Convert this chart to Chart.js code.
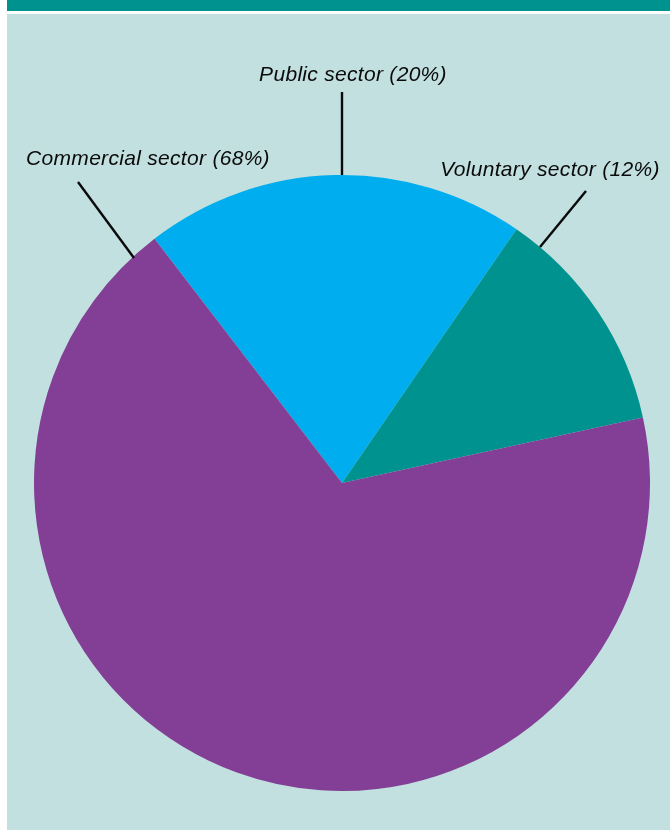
<!DOCTYPE html>
<html>
<head>
<meta charset="utf-8">
<script src="https://cdn.jsdelivr.net/npm/chart.js@4.4.1/dist/chart.umd.min.js"></script>
<style>
  html, body { margin: 0; padding: 0; background: #ffffff; }
  #frame { position: absolute; left: 7px; top: 0; width: 663px; height: 830px; background: #c2e0df; }
  #bar { position: absolute; left: 0; top: 0; width: 663px; height: 11px; background: #00928e; }
  #gap { position: absolute; left: 0; top: 11px; width: 663px; height: 3px; background: #ffffff; }
  #c { position: absolute; left: 0; top: 0; }
</style>
</head>
<body>
<div id="frame"><div id="bar"></div><div id="gap"></div></div>
<canvas id="c" width="670" height="830"></canvas>
<script>
// Data
const categories = ["Public sector", "Voluntary sector", "Commercial sector"];
const shares = [20, 12, 68];
const sliceColors = ["#00aeef", "#00928e", "#823f95"];

// Label annotations: text offset from pie centre, leader line from pie edge outward
const labelLayout = [
  { text: "Public sector (20%)",      tx: 11,   ty: -402, x1: 0,    y1: -308, x2: 0,    y2: -391 },
  { text: "Voluntary sector (12%)",   tx: 208,  ty: -307, x1: 198,  y1: -236, x2: 244,  y2: -292 },
  { text: "Commercial sector (68%)",  tx: -194, ty: -318, x1: -208, y1: -225, x2: -264, y2: -301 }
];

const leaderPlugin = {
  id: "leaders",
  afterDraw(chart) {
    const arc = chart.getDatasetMeta(0).data[0];
    const cx = arc.x, cy = arc.y;
    const ctx = chart.ctx;
    ctx.save();
    ctx.strokeStyle = "#0a0a0a";
    ctx.lineWidth = 2.4;
    labelLayout.forEach(l => {
      ctx.beginPath();
      ctx.moveTo(cx + l.x1, cy + l.y1);
      ctx.lineTo(cx + l.x2, cy + l.y2);
      ctx.stroke();
    });
    ctx.fillStyle = "#0a0a0a";
    ctx.font = "italic 21px 'Liberation Sans', Arial, sans-serif";
    try { ctx.letterSpacing = "0.3px"; } catch (e) {}
    ctx.textAlign = "center";
    ctx.textBaseline = "alphabetic";
    labelLayout.forEach(l => {
      ctx.fillText(l.text, cx + l.tx, cy + l.ty);
    });
    ctx.restore();
  }
};

new Chart(document.getElementById("c"), {
  type: "pie",
  data: {
    labels: categories,
    datasets: [{
      data: shares,
      backgroundColor: sliceColors,
      borderWidth: 0
    }]
  },
  options: {
    responsive: false,
    animation: false,
    rotation: -37.5,
    layout: { padding: { left: 34, right: 20, top: 175, bottom: 39 } },
    plugins: { legend: { display: false }, tooltip: { enabled: false } }
  },
  plugins: [leaderPlugin]
});
</script>
</body>
</html>
